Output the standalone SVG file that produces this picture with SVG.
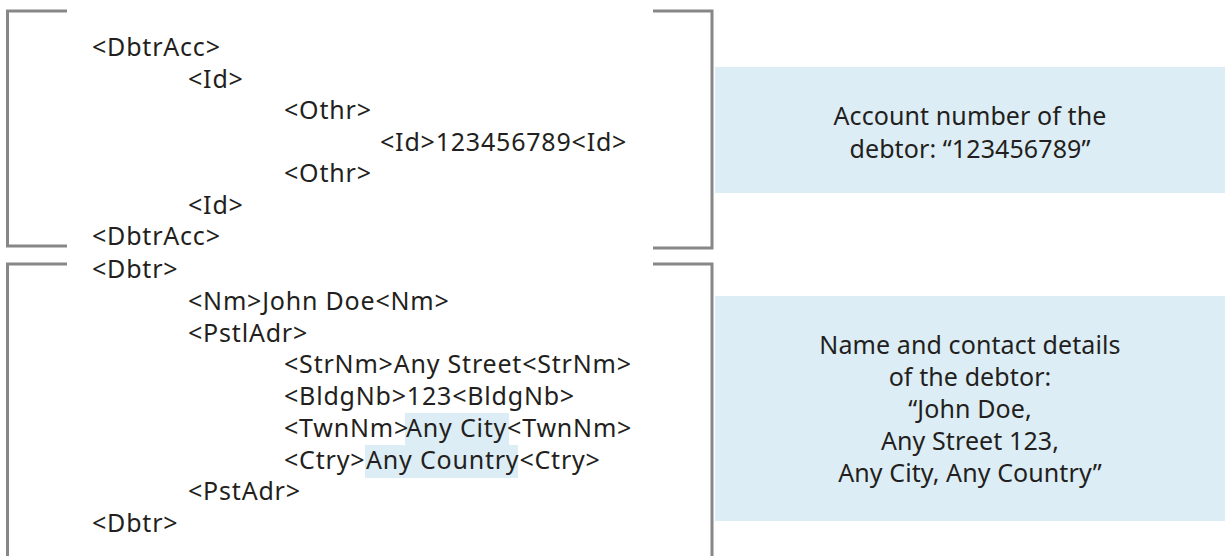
<svg xmlns="http://www.w3.org/2000/svg" width="1225" height="556" viewBox="0 0 1225 556">
  <style>
    .br { fill: none; stroke: #878787; stroke-width: 3; }
    .code { font-family: "Noto Sans", "DejaVu Sans", sans-serif; font-size: 25px; letter-spacing: 0.8px; fill: #231f20; }
    .note { font-family: "Noto Sans", "DejaVu Sans", sans-serif; font-size: 25px; letter-spacing: 0.1px; fill: #231f20; text-anchor: middle; }
    .box { fill: #ddedf5; }
  </style>
  <rect width="1225" height="556" fill="#ffffff"/>
  <g id="connectors">
    <path class="br" d="M67 11 H7.5 V246 H67"/>
    <path class="br" d="M653 11 H712 V248 H653"/>
    <path class="br" d="M67 264 H7.5 V556"/>
    <path class="br" d="M653 264 H712 V556"/>
  </g>
  <g id="highlights">
    <rect class="box" x="405" y="413" width="104" height="32"/>
    <rect class="box" x="365" y="445" width="153" height="33"/>
  </g>
  <g id="node-dbtracc">
    <text class="code" x="92" y="56">&lt;DbtrAcc&gt;</text>
    <text class="code" x="188" y="87.5">&lt;Id&gt;</text>
    <text class="code" x="284" y="119">&lt;Othr&gt;</text>
    <text class="code" x="380" y="150.5">&lt;Id&gt;123456789&lt;Id&gt;</text>
    <text class="code" x="284" y="182">&lt;Othr&gt;</text>
    <text class="code" x="188" y="213.5">&lt;Id&gt;</text>
    <text class="code" x="92" y="245">&lt;DbtrAcc&gt;</text>
  </g>
  <g id="node-dbtr">
    <text class="code" x="92" y="278">&lt;Dbtr&gt;</text>
    <text class="code" x="188" y="309.75">&lt;Nm&gt;John Doe&lt;Nm&gt;</text>
    <text class="code" x="188" y="341.5">&lt;PstlAdr&gt;</text>
    <text class="code" x="284" y="373.25">&lt;StrNm&gt;Any Street&lt;StrNm&gt;</text>
    <text class="code" x="284" y="405">&lt;BldgNb&gt;123&lt;BldgNb&gt;</text>
    <text class="code" x="284" y="436.75">&lt;TwnNm&gt;<tspan x="406">Any City</tspan>&lt;TwnNm&gt;</text>
    <text class="code" x="284" y="468.5">&lt;Ctry&gt;<tspan x="366">Any Country</tspan>&lt;Ctry&gt;</text>
    <text class="code" x="188" y="500.25">&lt;PstAdr&gt;</text>
    <text class="code" x="92" y="532">&lt;Dbtr&gt;</text>
  </g>
  <g id="node-account-note">
    <rect class="box" x="715" y="67" width="510" height="126"/>
    <text class="note" x="970" y="124.5">Account number of the</text>
    <text class="note" x="970" y="157.5">debtor: “123456789”</text>
  </g>
  <g id="node-name-note">
    <rect class="box" x="715" y="296" width="510" height="225"/>
    <text class="note" x="970" y="354">Name and contact details</text>
    <text class="note" x="970" y="386">of the debtor:</text>
    <text class="note" x="970" y="418">“John Doe,</text>
    <text class="note" x="970" y="450">Any Street 123,</text>
    <text class="note" x="970" y="482">Any City, Any Country”</text>
  </g>
</svg>
